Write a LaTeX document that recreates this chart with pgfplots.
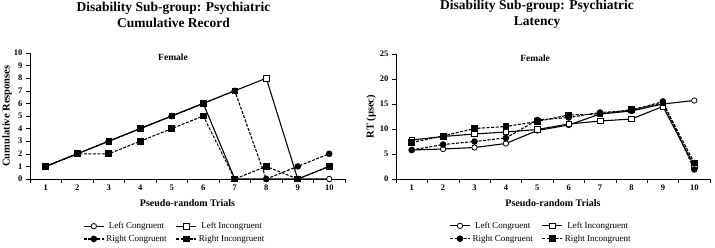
\documentclass[border=0pt]{standalone}
\usepackage{fontspec}
\setmainfont{Liberation Serif}
\usepackage{pgfplots}
\usepackage{pgfplotstable}
\pgfplotsset{compat=1.18}

% Cumulative record (responses per trial)
\pgfplotstableread{
x  LC LI RC RI
1  1  1  1  1
2  2  2  2  2
3  3  3  3  2
4  4  4  4  3
5  5  5  5  4
6  6  6  6  5
7  0  7  7  0
8  0  8  0  1
9  0  0  1  0
10 0  1  2  1
}\cumdata

\pgfplotsset{
  trialaxis/.style={
    scale only axis,
    clip=false,
    xmin=0.5, xmax=10.5,
    axis lines=left,
    axis line style={-, black, line width=0.7pt},
    tick align=outside,
    tick style={black, line width=0.6pt},
    major tick length=4pt,
    xtick={0.5,1.5,...,10.5},
    xticklabels={},
    extra x ticks={1,2,...,10},
    extra x tick style={major tick length=0pt},
    /pgf/number format/assume math mode=true,
    ticklabel style={font=\fontsize{8.5}{10}\selectfont\bfseries},
    xticklabel style={yshift=-2pt},
    xlabel={Pseudo-random Trials},
    xlabel style={font=\fontsize{10}{12}\selectfont\bfseries,
      at={(axis description cs:0.5,0)}, anchor=base, yshift=-27pt},
    ylabel style={font=\fontsize{10.5}{12}\selectfont\bfseries,
      at={(axis description cs:0,0.5)}, anchor=center},
    title style={align=center, font=\fontsize{13.5}{16}\selectfont\bfseries,
      at={(axis description cs:0.5,1)}, anchor=south, yshift=16pt},
    legend columns=2,
    legend style={draw=none, fill=none, anchor=north,
      font=\fontsize{9}{10}\selectfont,
      /tikz/every even column/.append style={column sep=7pt},
      row sep=1pt},
    legend image code/.code={%
      \draw[mark repeat=2,mark phase=2] plot coordinates {(0pt,0pt)(10pt,0pt)(20pt,0pt)};},
  },
  lc/.style={black, line width=1.1pt, mark=*, mark size=2.7pt,
    mark options={solid, fill=white, line width=0.8pt}},
  li/.style={black, line width=1.1pt, mark=square*, mark size=2.8pt,
    mark options={solid, fill=white, line width=0.8pt}},
  rc/.style={black, line width=1.1pt, dash pattern=on 3pt off 1.5pt,
    mark=*, mark size=2.7pt, mark options={solid, fill=black}},
  ri/.style={black, line width=1.1pt, dash pattern=on 3pt off 1.5pt,
    mark=square*, mark size=2.8pt, mark options={solid, fill=black}},
}

\begin{document}
\begin{tikzpicture}
\useasboundingbox (0,0) rectangle (715pt,247pt);

\begin{axis}[trialaxis,
  at={(30pt,68pt)}, anchor=south west,
  width=315pt, height=126pt,
  ymin=0, ymax=10, ytick={0,1,...,10},
  ylabel={Cumulative Responses},
  ylabel style={yshift=23pt},
  title={Disability Sub-group: Psychiatric\\Cumulative Record},
  title style={xshift=-14pt},
  legend style={at={(axis description cs:0.46,-0.31)}},
]
\addplot[lc] table[x=x,y=LC] {\cumdata};
\addplot[li] table[x=x,y=LI] {\cumdata};
\addplot[rc] table[x=x,y=RC] {\cumdata};
\addplot[ri] table[x=x,y=RI] {\cumdata};
\legend{Left Congruent, Left Incongruent, Right Congruent, Right Incongruent}
\node[font=\fontsize{9.5}{11}\selectfont\bfseries] at (rel axis cs:0.454,0.965) {Female};
\end{axis}

\begin{axis}[trialaxis,
  at={(396pt,68pt)}, anchor=south west,
  width=314pt, height=125pt,
  ymin=0, ymax=25, ytick={0,5,...,25},
  ylabel={RT (µsec)},
  ylabel style={yshift=25pt},
  title={Disability Sub-group: Psychiatric\\Latency},
  title style={xshift=-16pt},
  legend style={at={(axis description cs:0.462,-0.31)}},
]
% Left Congruent
\addplot[lc] coordinates {(1,5.8) (2,6.0) (3,6.3) (4,7.1) (5,9.7) (6,10.8) (7,13.0) (8,13.6) (9,15.0) (10,15.7)};
% Left Incongruent
\addplot[li] coordinates {(1,7.8) (2,8.5) (3,9.0) (4,9.4) (5,9.9) (6,11.0) (7,11.6) (8,12.0) (9,14.5) (10,2.6)};
% Right Congruent
\addplot[rc] coordinates {(1,5.8) (2,6.9) (3,7.5) (4,8.2) (5,11.8) (6,12.3) (7,13.3) (8,13.7) (9,15.5) (10,1.9)};
% Right Incongruent
\addplot[ri] coordinates {(1,7.3) (2,8.6) (3,10.1) (4,10.5) (5,11.5) (6,12.8) (7,13.0) (8,13.9) (9,15.2) (10,3.2)};
\legend{Left Congruent, Left Incongruent, Right Congruent, Right Incongruent}
\node[font=\fontsize{9.5}{11}\selectfont\bfseries] at (rel axis cs:0.443,0.965) {Female};
\end{axis}
\end{tikzpicture}
\end{document}
